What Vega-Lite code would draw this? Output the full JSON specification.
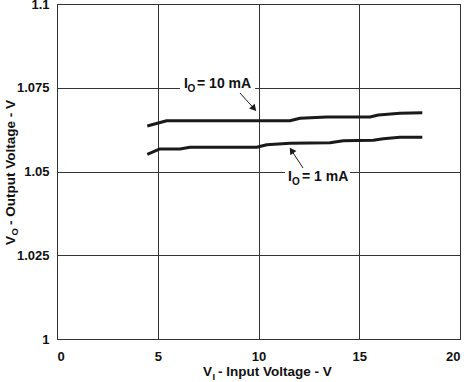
{
  "$schema": "https://vega.github.io/schema/vega-lite/v6.json",
  "width": 403,
  "height": 335,
  "autosize": {"type": "none"},
  "padding": {"left": 57, "top": 4, "right": 8, "bottom": 43},
  "background": "white",
  "config": {
    "view": {"stroke": "#222222", "strokeWidth": 1},
    "font": "Liberation Sans",
    "axis": {
      "grid": true, "gridColor": "#333333", "gridWidth": 1, "gridOpacity": 1,
      "domain": false, "ticks": false,
      "labelFont": "Liberation Sans", "labelFontWeight": "bold", "labelFontSize": 13, "labelColor": "#111111",
      "title": null
    }
  },
  "datasets": {
    "curves": [
      {"series": "10 mA", "vi": 4.48, "vo": 1.06358},
      {"series": "10 mA", "vi": 5.44, "vo": 1.06516},
      {"series": "10 mA", "vi": 11.56, "vo": 1.06516},
      {"series": "10 mA", "vi": 12.06, "vo": 1.06588},
      {"series": "10 mA", "vi": 13.38, "vo": 1.06627},
      {"series": "10 mA", "vi": 15.53, "vo": 1.06627},
      {"series": "10 mA", "vi": 15.95, "vo": 1.06687},
      {"series": "10 mA", "vi": 17.02, "vo": 1.06737},
      {"series": "10 mA", "vi": 18.13, "vo": 1.06755},
      {"series": "1 mA", "vi": 4.48, "vo": 1.05513},
      {"series": "1 mA", "vi": 5.11, "vo": 1.05672},
      {"series": "1 mA", "vi": 6.10, "vo": 1.05672},
      {"series": "1 mA", "vi": 6.60, "vo": 1.05722},
      {"series": "1 mA", "vi": 9.91, "vo": 1.05722},
      {"series": "1 mA", "vi": 10.41, "vo": 1.05800},
      {"series": "1 mA", "vi": 11.56, "vo": 1.05842},
      {"series": "1 mA", "vi": 13.55, "vo": 1.05860},
      {"series": "1 mA", "vi": 14.21, "vo": 1.05920},
      {"series": "1 mA", "vi": 15.70, "vo": 1.05931},
      {"series": "1 mA", "vi": 16.19, "vo": 1.05979},
      {"series": "1 mA", "vi": 17.02, "vo": 1.06021},
      {"series": "1 mA", "vi": 18.13, "vo": 1.06021}
    ],
    "boxes": [
      {"x": 6.1, "x2": 9.83, "y": 1.0731, "y2": 1.0773},
      {"x": 11.32, "x2": 14.54, "y": 1.0474, "y2": 1.0516}
    ],
    "arrows": [
      {"id": "10 mA", "x": 9.08, "y": 1.07343, "x2": 9.78, "y2": 1.0688},
      {"id": "1 mA", "x": 12.21, "y": 1.05104, "x2": 11.64, "y2": 1.05627}
    ],
    "texts": [
      {"kind": "main", "text": "I", "x": 6.30, "y": 1.07493},
      {"kind": "sub", "text": "O", "x": 6.48, "y": 1.07373},
      {"kind": "main", "text": "= 10 mA", "x": 6.95, "y": 1.07493},
      {"kind": "main", "text": "I", "x": 11.46, "y": 1.04716},
      {"kind": "sub", "text": "O", "x": 11.66, "y": 1.04597},
      {"kind": "main", "text": "= 1 mA", "x": 12.16, "y": 1.04716},
      {"kind": "xt", "text": "V", "x": 7.25, "y": 0.98881},
      {"kind": "xsub", "text": "I", "x": 7.72, "y": 0.98776},
      {"kind": "xt", "text": "- Input Voltage - V", "x": 7.99, "y": 0.98881},
      {"kind": "yt", "text": "V", "x": -2.084, "y": 1.02806},
      {"kind": "ysub", "text": "O", "x": -1.911, "y": 1.0309},
      {"kind": "yt", "text": "- Output Voltage - V", "x": -2.084, "y": 1.03403}
    ]
  },
  "layer": [
    {
      "data": {"name": "boxes"},
      "mark": {"type": "rect", "fill": "white", "stroke": null},
      "encoding": {
        "x": {"field": "x", "type": "quantitative", "scale": {"domain": [0, 20], "nice": false, "zero": false},
              "axis": {"values": [0, 5, 10, 15, 20], "labelPadding": 11, "format": "d"}},
        "x2": {"field": "x2"},
        "y": {"field": "y", "type": "quantitative", "scale": {"domain": [1, 1.1], "nice": false, "zero": false},
              "axis": {"values": [1, 1.025, 1.05, 1.075, 1.1], "labelPadding": 8, "format": ".3~f"}},
        "y2": {"field": "y2"}
      }
    },
    {
      "data": {"name": "curves"},
      "mark": {"type": "line", "stroke": "#1a1a1a", "strokeWidth": 3, "strokeCap": "butt", "strokeJoin": "round"},
      "encoding": {
        "x": {"field": "vi", "type": "quantitative"},
        "y": {"field": "vo", "type": "quantitative"},
        "detail": {"field": "series"}
      }
    },
    {
      "data": {"name": "arrows"},
      "mark": {"type": "rule", "stroke": "#1a1a1a", "strokeWidth": 1},
      "encoding": {
        "x": {"field": "x", "type": "quantitative"},
        "y": {"field": "y", "type": "quantitative"},
        "x2": {"field": "x2"},
        "y2": {"field": "y2"}
      }
    },
    {
      "data": {"name": "arrows"},
      "transform": [{"filter": "datum.id == '10 mA'"}],
      "mark": {"type": "point", "shape": "triangle-up", "filled": true, "fill": "#1a1a1a", "stroke": null, "size": 55, "opacity": 1, "angle": 138},
      "encoding": {
        "x": {"field": "x2", "type": "quantitative"},
        "y": {"field": "y2", "type": "quantitative"}
      }
    },
    {
      "data": {"name": "arrows"},
      "transform": [{"filter": "datum.id == '1 mA'"}],
      "mark": {"type": "point", "shape": "triangle-up", "filled": true, "fill": "#1a1a1a", "stroke": null, "size": 55, "opacity": 1, "angle": 326},
      "encoding": {
        "x": {"field": "x2", "type": "quantitative"},
        "y": {"field": "y2", "type": "quantitative"}
      }
    },
    {
      "data": {"name": "texts"},
      "transform": [{"filter": "datum.kind == 'main'"}],
      "mark": {"type": "text", "font": "Liberation Sans", "fontWeight": "bold", "fontSize": 14, "fill": "#111111", "align": "left", "baseline": "alphabetic"},
      "encoding": {
        "x": {"field": "x", "type": "quantitative"},
        "y": {"field": "y", "type": "quantitative"},
        "text": {"field": "text"}
      }
    },
    {
      "data": {"name": "texts"},
      "transform": [{"filter": "datum.kind == 'sub'"}],
      "mark": {"type": "text", "font": "Liberation Sans", "fontWeight": "bold", "fontSize": 10, "fill": "#111111", "align": "left", "baseline": "alphabetic"},
      "encoding": {
        "x": {"field": "x", "type": "quantitative"},
        "y": {"field": "y", "type": "quantitative"},
        "text": {"field": "text"}
      }
    },
    {
      "data": {"name": "texts"},
      "transform": [{"filter": "datum.kind == 'xt'"}],
      "mark": {"type": "text", "font": "Liberation Sans", "fontWeight": "bold", "fontSize": 13.5, "fill": "#111111", "align": "left", "baseline": "alphabetic"},
      "encoding": {
        "x": {"field": "x", "type": "quantitative"},
        "y": {"field": "y", "type": "quantitative"},
        "text": {"field": "text"}
      }
    },
    {
      "data": {"name": "texts"},
      "transform": [{"filter": "datum.kind == 'xsub'"}],
      "mark": {"type": "text", "font": "Liberation Sans", "fontWeight": "bold", "fontSize": 9.5, "fill": "#111111", "align": "left", "baseline": "alphabetic"},
      "encoding": {
        "x": {"field": "x", "type": "quantitative"},
        "y": {"field": "y", "type": "quantitative"},
        "text": {"field": "text"}
      }
    },
    {
      "data": {"name": "texts"},
      "transform": [{"filter": "datum.kind == 'yt'"}],
      "mark": {"type": "text", "font": "Liberation Sans", "fontWeight": "bold", "fontSize": 13.5, "fill": "#111111", "align": "left", "baseline": "alphabetic", "angle": 270},
      "encoding": {
        "x": {"field": "x", "type": "quantitative"},
        "y": {"field": "y", "type": "quantitative"},
        "text": {"field": "text"}
      }
    },
    {
      "data": {"name": "texts"},
      "transform": [{"filter": "datum.kind == 'ysub'"}],
      "mark": {"type": "text", "font": "Liberation Sans", "fontWeight": "bold", "fontSize": 9.5, "fill": "#111111", "align": "left", "baseline": "alphabetic", "angle": 270},
      "encoding": {
        "x": {"field": "x", "type": "quantitative"},
        "y": {"field": "y", "type": "quantitative"},
        "text": {"field": "text"}
      }
    }
  ]
}
